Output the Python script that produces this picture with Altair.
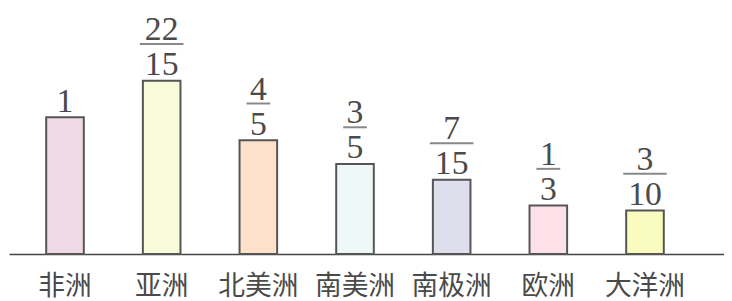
import altair as alt
import pandas as pd

continents = ["非洲", "亚洲", "北美洲", "南美洲", "南极洲", "欧洲", "大洋洲"]
heights = [1.0, 1.268, 0.833, 0.659, 0.543, 0.355, 0.319]
numerators = ["", "22", "4", "3", "7", "1", "3"]
denominators = ["1", "15", "5", "5", "15", "3", "10"]
colors = ["#efd9e6", "#f7fbd9", "#fde1cb", "#eef9f7", "#dedeed", "#fde0e8", "#fafcbf"]

df = pd.DataFrame({
    "continent": continents,
    "h": heights,
    "num": numerators,
    "den": denominators,
})

x = alt.X(
    "continent:N",
    sort=continents,
    scale=alt.Scale(paddingInner=0.611, paddingOuter=0.504, align=0.382),
    axis=alt.Axis(
        title=None, labelAngle=0, ticks=False,
        domainColor="#444444", domainWidth=1.5,
        labelFont="Noto Sans CJK SC", labelFontSize=27,
        labelColor="#4a4a4a", labelPadding=20,
    ),
)
y = alt.Y("h:Q", scale=alt.Scale(domain=[0, 1.775]), axis=None)

base = alt.Chart(df).encode(x=x, y=y)

bars = base.mark_bar(stroke="#555555", strokeWidth=2).encode(
    color=alt.Color("continent:N", sort=continents,
                    scale=alt.Scale(domain=continents, range=colors), legend=None)
)

den_text = base.mark_text(
    font="Liberation Serif", fontSize=34, dy=-5.5, baseline="alphabetic", color="#4a4a4a"
).encode(text="den:N")

num_text = base.mark_text(
    font="Liberation Serif", fontSize=34, dy=-41, baseline="alphabetic", color="#4a4a4a"
).encode(text="num:N")

frac_line = base.transform_filter("datum.num != ''").transform_calculate(
    len="max(length(datum.num), length(datum.den)) * 20 + 4"
).mark_tick(thickness=2, color="#555555", yOffset=-37).encode(
    size=alt.Size("len:Q", scale=None)
)

chart = alt.layer(bars, frac_line, den_text, num_text).properties(
    width=722, height=245,
    autosize=alt.AutoSizeParams(type="none"),
    padding={"left": 1, "top": 2, "right": 0, "bottom": 44},
).configure_view(stroke=None)

chart.save("out.html", embed_options={"renderer": "svg", "actions": False})
